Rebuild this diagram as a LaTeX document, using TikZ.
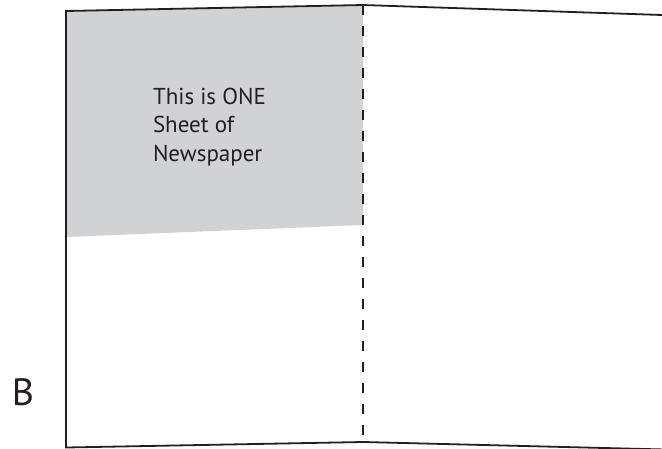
\documentclass[tikz,border=0pt]{standalone}
\usepackage{fontspec}
\setmainfont{PT Sans}
\definecolor{ink}{HTML}{231F20}
\definecolor{sheetgray}{HTML}{D1D2D4}
\tikzset{
  edge/.style={draw=ink, line width=1.8pt, line join=miter},
  fold/.style={draw=ink, line width=1.8pt, dash pattern=on 10pt off 11pt},
  label/.style={text=ink, inner sep=0pt, outer sep=0pt, align=left}
}
\begin{document}
\begin{tikzpicture}[x=1pt,y=-1pt]
\useasboundingbox (0,0) rectangle (662,448);
\clip (0,0) rectangle (662,448);
\coordinate (tl) at (66,11);
\coordinate (tm) at (363,5);
\coordinate (tr) at (665,15.1);
\coordinate (bl) at (66,447.5);
\coordinate (bm) at (363,442);
\coordinate (br) at (665,449.5);
\coordinate (gl) at (66,237);
\coordinate (gm) at (363,225);
% gray shaded area
\fill[sheetgray] (tl) -- (tm) -- (gm) -- (gl) -- cycle;
% outline of sheet
\draw[edge] (tr) -- (tm) -- (tl) -- (bl) -- (bm) -- (br);
% fold line
\draw[fold] (tm) -- (bm);
% texts
\node[label, anchor=north west, font=\fontsize{23}{28.5}\selectfont] (txt) at (153,88)
  {This is ONE\\Sheet of\\Newspaper};
\node[label, anchor=base west, font=\fontsize{38}{40}\selectfont] (b) at (12,405) {B};
\end{tikzpicture}
\end{document}
